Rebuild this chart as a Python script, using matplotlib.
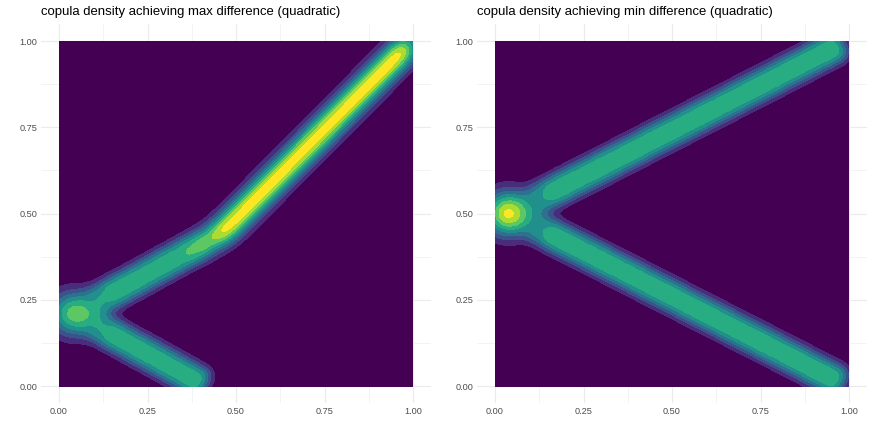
import numpy as np
import matplotlib
matplotlib.use("Agg")
import matplotlib.pyplot as plt

plt.rcParams['font.family'] = ['Liberation Sans', 'DejaVu Sans']

# density ridges: knot x, knot y, height in colour bins
# left panel
max_blob = [0.04, 0.21, 6.3]
arm_x = [0.08, 0.115, 0.15, 0.185, 0.22, 0.255, 0.29, 0.325, 0.36, 0.395]
max_upper_y = [0.23, 0.25, 0.27, 0.289, 0.308, 0.328, 0.348, 0.367, 0.387, 0.407]
max_upper_h = [0.9, 3.1, 4.35, 4.3, 4.3, 4.3, 4.3, 4.3, 3.9, 2.2]
low_x = [0.08, 0.115, 0.15, 0.185, 0.22, 0.255, 0.29, 0.325, 0.36, 0.395]
max_lower_y = [0.19, 0.17, 0.15, 0.13, 0.11, 0.091, 0.071, 0.051, 0.031, 0.011]
max_lower_h = [0.9, 3.1, 4.35, 4.3, 4.3, 4.3, 4.3, 4.3, 4.3, 4.6]
main_x = [0.39, 0.42, 0.448, 0.476, 0.504, 0.532, 0.56, 0.588, 0.616, 0.644, 0.672, 0.70,
          0.728, 0.756, 0.784, 0.812, 0.84, 0.868, 0.896, 0.924, 0.952, 0.98]
main_y = [0.40, 0.42, 0.437, 0.46, 0.489, 0.518, 0.547, 0.576, 0.605, 0.634, 0.663, 0.692,
          0.721, 0.75, 0.779, 0.808, 0.837, 0.866, 0.895, 0.924, 0.953, 0.982]
main_h = [3.0, 5.0, 6.8, 8.2, 8.5, 8.5, 8.5, 8.5, 8.5, 8.5, 8.5, 8.5,
          8.5, 8.5, 8.5, 8.5, 8.5, 8.5, 8.5, 8.5, 8.5, 8.5]

# right panel
min_blob = [0.037, 0.50, 8.2]
wing_x = [0.09, 0.125, 0.16, 0.195, 0.23, 0.265, 0.30, 0.335, 0.37, 0.405, 0.44, 0.475, 0.51,
          0.545, 0.58, 0.615, 0.65, 0.685, 0.72, 0.755, 0.79, 0.825, 0.86, 0.895, 0.93, 0.965]
wing_up_y = [0.525, 0.543, 0.562, 0.58, 0.598, 0.617, 0.635, 0.653, 0.672, 0.69, 0.709, 0.727, 0.745,
             0.764, 0.782, 0.80, 0.819, 0.837, 0.856, 0.874, 0.892, 0.911, 0.929, 0.948, 0.966, 0.984]
wing_down_y = [0.475, 0.457, 0.438, 0.42, 0.402, 0.383, 0.365, 0.347, 0.328, 0.31, 0.291, 0.273, 0.255,
               0.236, 0.218, 0.20, 0.181, 0.163, 0.144, 0.126, 0.108, 0.089, 0.071, 0.052, 0.034, 0.016]
wing_h = [0.9, 3.1, 4.35, 4.35, 4.35, 4.35, 4.35, 4.35, 4.35, 4.35, 4.35, 4.35, 4.35,
          4.35, 4.35, 4.35, 4.35, 4.35, 4.35, 4.35, 4.35, 4.35, 4.35, 4.35, 4.35, 4.5]

titles = ["copula density achieving max difference (quadratic)",
          "copula density achieving min difference (quadratic)"]
bin_colors = ["#440154", "#472d7b", "#3b528b", "#2c728e", "#21908c",
              "#27ad81", "#5dc863", "#aadc32", "#fde725"]
bin_edges = [0, 1, 2, 3, 4, 5, 6, 7, 8, 100]
ticks = [0, 0.25, 0.5, 0.75, 1]
tick_labels = ["0.00", "0.25", "0.50", "0.75", "1.00"]
minor_ticks = [0.125, 0.375, 0.625, 0.875]

STEP = 0.04
ARM_BW = 0.022
ARM_OFFSET = 0.02
MAIN_BW = 0.03
BLOB_BW = 0.045
W, H = 872, 436

grid = np.linspace(0, 1, 401)
gx, gy = np.meshgrid(grid, grid)


def kernel(x, y, h, bw):
    return h * np.exp(-((gx - x) ** 2 + (gy - y) ** 2) / (2 * bw ** 2))


def ridge(kx, ky, kh, bw):
    z = np.zeros_like(gx)
    for x, y, h in zip(kx, ky, kh):
        z += kernel(x, y, h, bw)
    return z * STEP / (bw * np.sqrt(2 * np.pi))


def flat_ridge(kx, ky, kh):
    # two kernels side by side so the top of the arm comes out flat
    kx, ky = np.array(kx), np.array(ky)
    dx, dy = np.gradient(kx), np.gradient(ky)
    n = np.hypot(dx, dy)
    nx, ny = -dy / n * ARM_OFFSET, dx / n * ARM_OFFSET
    return ridge(kx + nx, ky + ny, kh, ARM_BW) + ridge(kx - nx, ky - ny, kh, ARM_BW)


max_z = (kernel(*max_blob, BLOB_BW) + flat_ridge(arm_x, max_upper_y, max_upper_h)
         + flat_ridge(low_x, max_lower_y, max_lower_h) + ridge(main_x, main_y, main_h, MAIN_BW))
min_z = (kernel(*min_blob, BLOB_BW) + flat_ridge(wing_x, wing_up_y, wing_h)
         + flat_ridge(wing_x, wing_down_y, wing_h))

fig = plt.figure(figsize=(W / 100, H / 100), dpi=100)

for left, z, title in zip([41.3, 477.3], [max_z, min_z], titles):
    ax = fig.add_axes([left / W, 1 - 403.3 / H, 389.4 / W, 379.5 / H])
    ax.contourf(gx, gy, z, levels=bin_edges, colors=bin_colors, zorder=2)
    ax.set_xlim(-0.05, 1.05)
    ax.set_ylim(-0.05, 1.05)
    ax.set_xticks(ticks)
    ax.set_xticklabels(tick_labels)
    ax.set_yticks(ticks)
    ax.set_yticklabels(tick_labels)
    ax.set_xticks(minor_ticks, minor=True)
    ax.set_yticks(minor_ticks, minor=True)
    ax.grid(True, which="major", color="#ebebeb", lw=0.8, zorder=0)
    ax.grid(True, which="minor", color="#ebebeb", lw=0.4, zorder=0)
    ax.set_axisbelow(True)
    ax.tick_params(which="both", length=0, labelsize=6.6, labelcolor="#4d4d4d", pad=3)
    for s in ax.spines.values():
        s.set_visible(False)
    ax.set_title(title, loc="left", fontsize=9.45, color="black", pad=6)

fig.savefig("out.png", dpi=100)
